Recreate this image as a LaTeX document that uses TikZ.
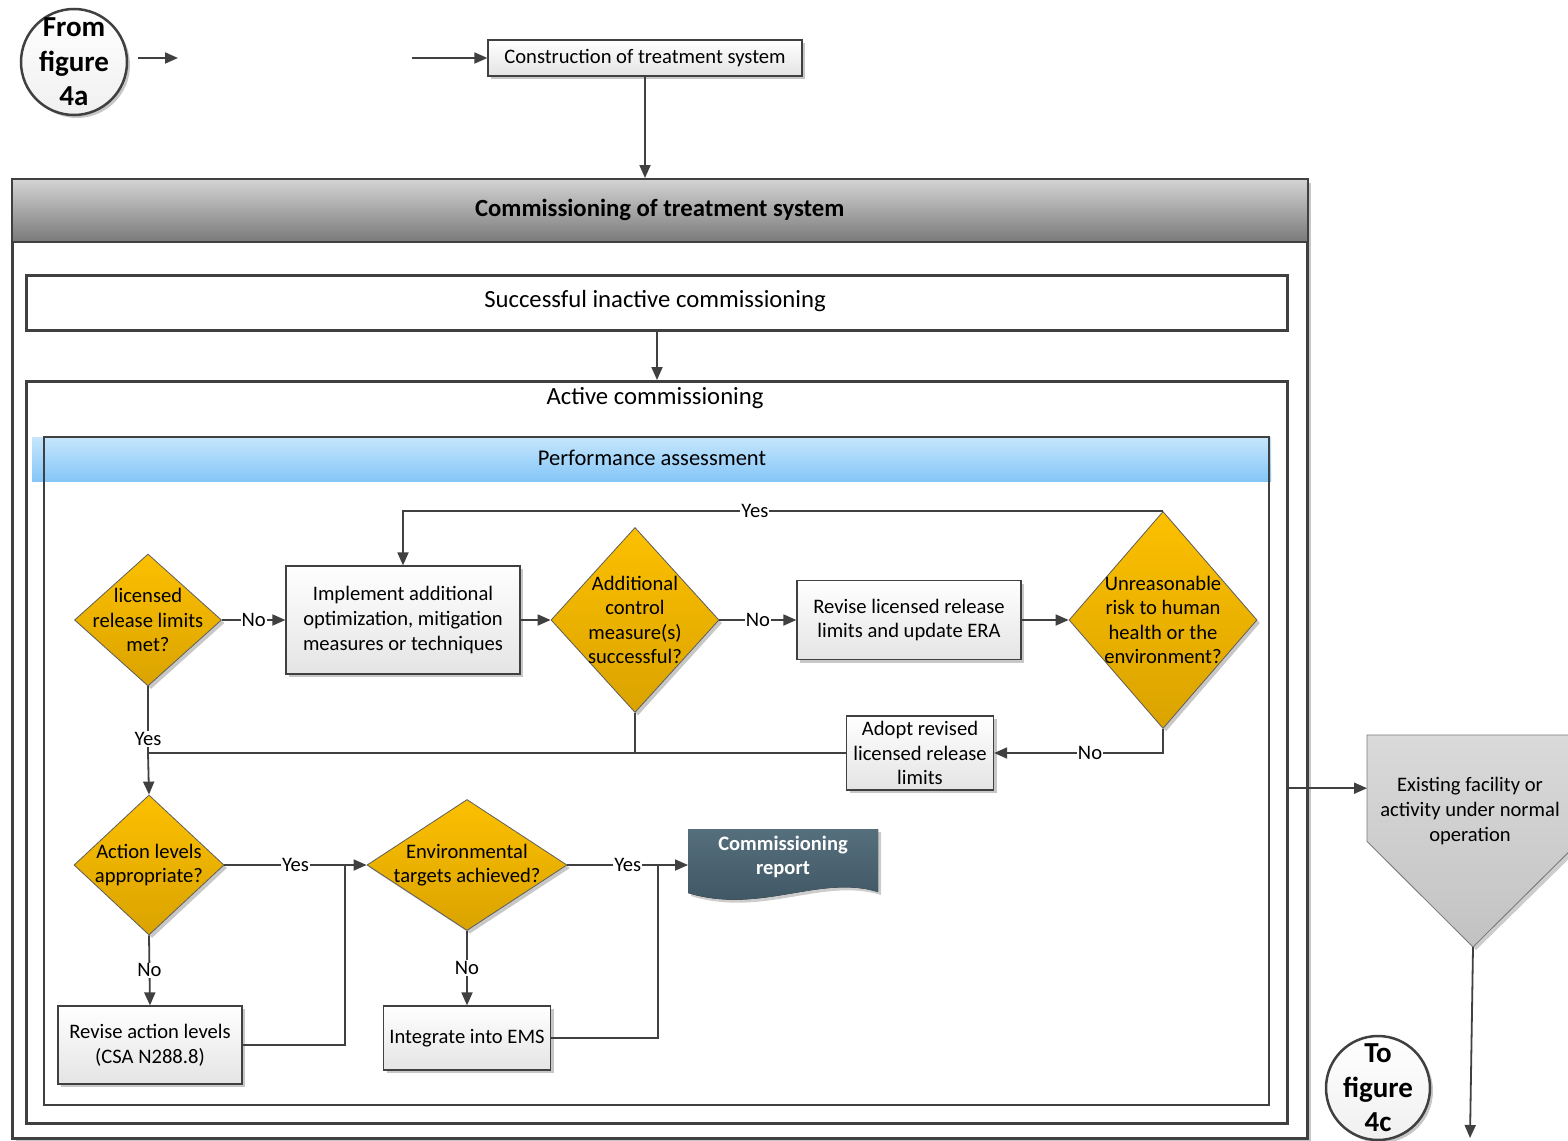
\documentclass[tikz,border=0pt]{standalone}
\usepackage{fontspec}
\setmainfont{Carlito}
\usetikzlibrary{shapes.geometric,arrows.meta,shadows,calc}
\definecolor{ln}{HTML}{404040}
\definecolor{boxgray}{HTML}{E4E4E4}
\definecolor{goldtop}{HTML}{FCC000}
\definecolor{goldbot}{HTML}{DAA300}
\definecolor{hdtop}{HTML}{D4D4D4}
\definecolor{hdbot}{HTML}{7A7A7A}
\definecolor{bluetop}{HTML}{C6E6FC}
\definecolor{bluebot}{HTML}{84C6F8}
\definecolor{reptop}{HTML}{566F7D}
\definecolor{repbot}{HTML}{3C5360}
\definecolor{penttop}{HTML}{DADADA}
\definecolor{pentbot}{HTML}{C2C2C2}
\newcommand{\bodyf}{\fontsize{20.6}{24.6}\selectfont}
\newcommand{\bigf}{\fontsize{24.7}{28}\selectfont}
\newcommand{\circf}{\bfseries\fontsize{29}{34.5}\selectfont}
\tikzset{
  shd/.style={drop shadow={opacity=0.22, shadow xshift=3pt, shadow yshift=-3pt, fill=black}},
  stepbox/.style={rectangle, draw=ln, line width=1.2pt, top color=white, bottom color=boxgray, shd, inner sep=0, align=center, font=\bodyf},
  dia/.style={diamond, draw=ln!85, line width=0.8pt, top color=goldtop, bottom color=goldbot, inner sep=0, shd},
  dtext/.style={align=center, font=\bodyf, inner sep=0, text=black},
  arr/.style={draw=ln, line width=1.8pt, -{Triangle[length=13pt,width=11pt]}},
  con/.style={draw=ln, line width=1.8pt},
  lab/.style={fill=white, inner sep=1pt, font=\bodyf},
  frame/.style={rectangle, draw=ln, line width=3pt, inner sep=0, anchor=north west},
  conn/.style={circle, draw=ln, line width=2.5pt, top color=white, bottom color=gray!12, inner sep=0, shd},
  ctext/.style={align=center, font=\circf, inner sep=0},
}
\begin{document}
\begin{tikzpicture}[x=1pt,y=-1pt]
\useasboundingbox (0,0) rectangle (1568,1140);

% connectors in / top
\node[conn, minimum size=106, label={[ctext]center:{From\\figure\\4a}}] (fromc) at (74,62) {};
\node[stepbox, minimum width=314, minimum height=36] (cons) at (645,58) {Construction of treatment system};
\coordinate (f1) at (138,58);
\coordinate (f2) at (178,58);
\coordinate (f3) at (412,58);
\draw[arr] (f1) -- (f2);
\draw[arr] (f3) -- (cons.west);

% outer commissioning container
\node[frame, fill=white, minimum width=1295, minimum height=959, shd] (comm) at (11,178) {};
\node[rectangle, draw=ln, line width=1.5pt, top color=hdtop, bottom color=hdbot, minimum width=1296, minimum height=63, inner sep=0, anchor=north west, font=\bfseries\fontsize{24.7}{28}\selectfont] (commhead) at (11,178) {Commissioning of treatment system};
\draw[arr] (cons.south) -- (cons.south |- commhead.north);

% inactive / active
\node[frame, fill=white, minimum width=1261, minimum height=55] (inact) at (25,274) {};
\node[font=\bigf, inner sep=0] (inacttext) at (655,301) {Successful inactive commissioning};
\node[frame, fill=white, minimum width=1261, minimum height=742] (active) at (25,380) {};
\node[font=\bigf, inner sep=0] (acttitle) at (655,398) {Active commissioning};
\draw[arr] (inact.south) -- (active.north);

% performance assessment
\fill[top color=bluetop, bottom color=bluebot] (32,437) rectangle (1271,481);
\node[rectangle, draw=ln, line width=2pt, minimum width=1225, minimum height=668, inner sep=0, anchor=north west] (perf) at (43,436) {};
\node[font=\fontsize{22.5}{26}\selectfont, inner sep=0] (perfhead) at (652,458) {Performance assessment};

% row 1
\node[dia, minimum width=147, minimum height=132, label={[dtext]center:{licensed\\release limits\\met?}}] (d1) at (148,620) {};
\node[stepbox, minimum width=234, minimum height=108] (b1) at (403,620) {Implement additional\\optimization, mitigation\\measures or techniques};
\node[dia, minimum width=168, minimum height=185, label={[dtext]center:{Additional\\control\\measure(s)\\successful?}}] (d2) at (635,620) {};
\node[stepbox, minimum width=224, minimum height=79] (b2) at (909,620) {Revise licensed release\\limits and update ERA};
\node[dia, minimum width=188, minimum height=217, label={[dtext]center:{Unreasonable\\risk to human\\health or the\\environment?}}] (d3) at (1163,620) {};
\node[stepbox, minimum width=147, minimum height=74] (b3) at (920,753) {Adopt revised\\licensed release\\limits};

% row 2
\node[dia, minimum width=150, minimum height=140, label={[dtext]center:{Action levels\\appropriate?}}] (d4) at (149,865) {};
\node[dia, minimum width=200, minimum height=131, label={[dtext]center:{Environmental\\targets achieved?}}] (d5) at (467,865) {};
\node[stepbox, minimum width=184, minimum height=78] (b4) at (150,1045) {Revise action levels\\(CSA N288.8)};
\node[stepbox, minimum width=167, minimum height=64] (b5) at (467,1038) {Integrate into EMS};

% commissioning report (document shape)
\node[rectangle, minimum width=190, minimum height=62, inner sep=0, anchor=north west] (rep) at (688,829) {};
\fill[black, opacity=0.2] (691,832) -- (881,832) -- (881,895) .. controls (823,877) and (763,918) .. (691,896) -- cycle;
\fill[top color=reptop, bottom color=repbot] (688,829) -- (878,829) -- (878,892) .. controls (820,874) and (760,915) .. (688,893) -- cycle;
\node[align=center, text=white, font=\bfseries\fontsize{20.5}{24}\selectfont, inner sep=0] (reptext) at (783,857) {Commissioning\\report};

% existing facility (off-page shape)
\node[rectangle, minimum width=212, minimum height=106, inner sep=0, anchor=north west] (pent) at (1367,735) {};
\fill[black, opacity=0.2] (1370,738) -- (1584,738) -- (1584,844) -- (1476,950) -- (1370,844) -- cycle;
\filldraw[draw=ln!70, line width=0.8pt, top color=penttop, bottom color=pentbot] (pent.north west) -- (pent.north east) -- (pent.south east) -- (1473,947) -- (pent.south west) -- cycle;
\node[align=center, font=\bodyf, inner sep=0] (penttext) at (1470,811) {Existing facility or\\activity under normal\\operation};
\coordinate (ptip) at (1473,947);
\coordinate (pend) at (1470,1138);
\draw[arr] (ptip) -- (pend);
\draw[arr] (active.east |- pent.west) -- (pent.west);

\node[conn, minimum size=104, label={[ctext]center:{To\\figure\\4c}}] (toc) at (1378,1088) {};

% flow connectors
\coordinate (jn) at (148,753);
\coordinate (j2) at (345,865);
\coordinate (j3) at (658,865);
\draw[arr] (d1.east) -- node[lab]{No} (b1.west);
\draw[arr] (b1.east) -- (d2.west);
\draw[arr] (d2.east) -- node[lab]{No} (b2.west);
\draw[arr] (b2.east) -- (d3.west);
\draw[arr] (d3.north) -- node[lab, pos=0.537]{Yes} (b1.north |- d3.north) -- (b1.north);
\draw[arr] (d3.south) |- node[lab, pos=0.716]{No} (b3.east);
\draw[con] (d1.south) -- node[lab, pos=0.79]{Yes} (d1.south |- jn);
\draw[con] (d2.south) -- (d2.south |- jn);
\draw[arr] (b3.west) -- (jn) -- (d4.north);
\draw[arr] (d4.east) -- node[lab]{Yes} (d5.west);
\draw[arr] (d4.south) -- node[lab]{No} (b4.north);
\draw[con] (b4.east) -| (j2);
\draw[arr] (d5.east) -- node[lab]{Yes} (rep.west |- d5.east);
\draw[arr] (d5.south) -- node[lab]{No} (b5.north);
\draw[con] (b5.east) -| (j3);
\end{tikzpicture}
\end{document}
